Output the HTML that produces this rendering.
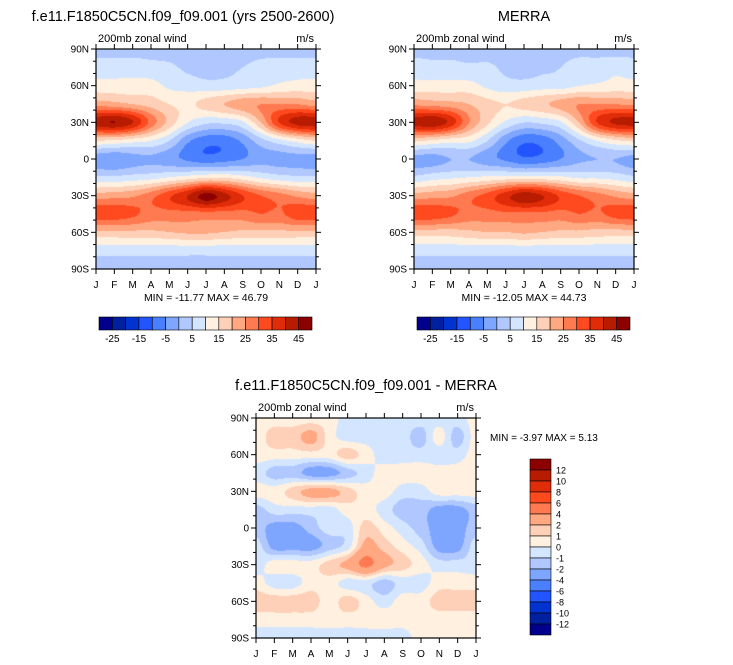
<!DOCTYPE html>
<html><head><meta charset="utf-8">
<style>
body{margin:0;background:#fff;width:733px;height:665px;overflow:hidden;position:relative;font-family:"Liberation Sans",sans-serif}
canvas{position:absolute}
svg{position:absolute;left:0;top:0}
</style></head>
<body>
<canvas id="c1" width="220" height="220" style="left:96px;top:49px"></canvas>
<canvas id="c2" width="220" height="220" style="left:414px;top:49px"></canvas>
<canvas id="c3" width="220" height="220" style="left:256px;top:418px"></canvas>
<svg id="ov" width="733" height="665"></svg>
<script>
const months=["J","F","M","A","M","J","J","A","S","O","N","D","J"];
const latLabels=["90N","60N","30N","0","30S","60S","90S"];
// rows: lat 90,75,60,45,30,15,0,-15,-30,-45,-60,-75,-90 ; cols: J..J (13)
const modelU=[
[3,3,3,3,3,3,2,2,3,3,3,3,3],
[8,8,8,7,6,4,3,4,5,7,8,8,8],
[12,12,12,12,9,8,7,7,8,9,11,12,12],
[23,22,20,18,15,14,17,20,23,25,25,25,23],
[43,45,40,28,18,10,6,6,9,20,35,42,43],
[15,14,12,10,5,-4,-8,-8,-4,3,8,12,15],
[-3,-4,-2,-1,-3,-6,-8,-7,-5,-2,-2,-2,-3],
[6,6,7,8,10,12,14,14,12,9,7,6,6],
[22,23,24,28,34,40,47,42,35,30,27,24,22],
[33,33,31,28,28,28,28,28,28,30,29,33,33],
[19,19,19,19,20,21,21,20,19,19,19,19,19],
[7,7,7,7,7,7,7,7,7,7,7,7,7],
[3,3,3,3,3,3,3,3,3,3,3,3,3]];
const merraU=[
[3,3,3,3,3,3,2,3,3,3,3,3,3],
[8,7,7,6,6,4,3,4,5,8,8,9,8],
[12,12,12,12,9,7,7,8,8,10,11,12,12],
[24,23,22,20,17,15,17,19,22,25,25,25,24],
[42,44,38,25,16,9,5,6,9,20,35,41,42],
[16,14,12,11,5,-4,-9,-8,-3,4,10,14,16],
[-2,-2,0,0,-3,-6,-9,-8,-5,-1,0,0,-2],
[6,8,9,10,11,12,12,12,11,9,9,8,6],
[22,23,24,28,32,38,43,40,34,30,27,24,22],
[33,33,31,28,28,29,29,29,28,30,29,32,33],
[18,18,18,19,20,20,21,20,19,19,18,18,18],
[7,7,7,7,7,7,7,7,7,7,7,7,7],
[3,3,3,3,3,3,3,3,3,3,3,3,3]];
const diffU=[
[0.5,0.5,0.5,0.5,0.5,-0.5,-0.5,-0.5,-0.5,-0.5,-0.5,-0.5,0.5],
[0.5,1.5,1.5,2.5,0.5,-0.5,-0.5,-0.5,-0.5,-1.5,0.5,-1.5,0.5],
[0.5,0.5,0.5,0.5,0.5,1.5,0.5,-0.5,-0.5,-0.5,-0.5,-0.5,0.5],
[-0.5,-1.5,-1.5,-2.5,-2.5,-1.5,-0.5,0.5,0.5,0.5,0.5,0.5,0.5],
[0.5,0.5,1.5,2.5,2.5,1.5,0.5,0.5,-0.5,-0.5,0.5,0.5,0.5],
[-1.5,-0.5,-0.5,-0.5,-0.5,0.5,0.5,-0.5,-1.5,-1.5,-2.5,-2.5,-1.5],
[-1.5,-2.5,-2.5,-1.5,-0.5,-0.5,1.5,0.5,-0.5,-1.5,-2.5,-2.5,-1.5],
[-0.5,-2.5,-2.5,-2.5,-1.5,-0.5,2.5,1.5,0.5,-0.5,-2.5,-2.5,-0.5],
[-0.5,0.5,0.5,0.5,1.5,2.5,4.5,2.5,1.5,0.5,-0.5,-0.5,-0.5],
[0.5,-0.5,-0.5,0.5,0.5,-0.5,-0.5,-1.5,-0.5,-0.5,0.5,0.5,0.5],
[1.5,1.5,1.5,1.5,0.5,1.5,0.5,-0.5,0.5,0.5,1.5,1.5,1.5],
[0.5,0.5,0.5,0.5,0.5,0.5,0.5,0.5,0.5,0.5,0.5,0.5,0.5],
[-0.5,-0.5,-0.5,-0.5,-0.5,-0.5,-0.5,-0.5,-0.5,0.5,0.5,0.5,0.5]];
const levelsTop=[-25,-20,-15,-10,-5,0,5,10,15,20,25,30,35,40,45];
const levelsDiff=[-12,-10,-8,-6,-4,-2,-1,0,1,2,4,6,8,10,12];
const topLabels=["-25","-15","-5","5","15","25","35","45"];
const diffLabels=["12","10","8","6","4","2","1","0","-1","-2","-4","-6","-8","-10","-12"];
const colors=["#00008c","#0020a0","#0033d0","#2255ff","#4a7fff","#7fa6ff","#b0c8ff","#d4e6ff","#fff0e0","#ffd0b8","#ffa882","#ff7a50","#ff4a20","#e02c08","#b81c00","#8c0000"];

function hex(c){return [parseInt(c.slice(1,3),16),parseInt(c.slice(3,5),16),parseInt(c.slice(5,7),16)];}
const rgb=colors.map(hex);
function levelIndex(v,lev){let i=0;while(i<lev.length&&v>=lev[i])i++;return i;}
function cr(p0,p1,p2,p3,t){return 0.5*((2*p1)+(-p0+p2)*t+(2*p0-5*p1+4*p2-p3)*t*t+(-p0+3*p1-3*p2+p3)*t*t*t);}
function draw(id,grid,lev){
  const cv=document.getElementById(id),ctx=cv.getContext('2d');
  const W=cv.width,H=cv.height,img=ctx.createImageData(W,H);
  const nr=grid.length,nc=grid[0].length;
  const g=(r,c)=>grid[Math.max(0,Math.min(nr-1,r))][Math.max(0,Math.min(nc-1,c))];
  for(let y=0;y<H;y++){
    const fy=y/(H-1)*(nr-1),r0=Math.min(Math.floor(fy),nr-2),ty=fy-r0;
    for(let x=0;x<W;x++){
      const fx=x/(W-1)*(nc-1),c0=Math.min(Math.floor(fx),nc-2),tx=fx-c0;
      const rows=[];
      for(let j=-1;j<=2;j++)rows.push(cr(g(r0+j,c0-1),g(r0+j,c0),g(r0+j,c0+1),g(r0+j,c0+2),tx));
      const v=cr(rows[0],rows[1],rows[2],rows[3],ty);
      const c=rgb[levelIndex(v,lev)],k=(y*W+x)*4;
      img.data[k]=c[0];img.data[k+1]=c[1];img.data[k+2]=c[2];img.data[k+3]=255;
    }
  }
  ctx.putImageData(img,0,0);
}
draw('c1',modelU,levelsTop);draw('c2',merraU,levelsTop);draw('c3',diffU,levelsDiff);

const NS="http://www.w3.org/2000/svg",svg=document.getElementById('ov');
function el(tag,attrs,text){const e=document.createElementNS(NS,tag);for(const k in attrs)e.setAttribute(k,attrs[k]);if(text!==undefined)e.textContent=text;svg.appendChild(e);return e;}
function txt(x,y,s,size,anchor,name){const t=el('text',{x:x,y:y,'font-size':size,'text-anchor':anchor||'start','font-family':'Liberation Sans, sans-serif',fill:'#000'},s);

return t;}
function panel(x0,y0,title,tx,name){
  const w=220,h=220;
  const f=el('rect',{x:x0,y:y0,width:w,height:h,fill:'none',stroke:'#000','stroke-width':1.2});
  
  
  const xs=i=>x0+i*w/12, ys=lat=>y0+(90-lat)/180*h;
  months.forEach((m,i)=>{
    el('line',{x1:xs(i),y1:y0+h,x2:xs(i),y2:y0+h+5,stroke:'#000'});
    el('line',{x1:xs(i),y1:y0,x2:xs(i),y2:y0-5,stroke:'#000'});
    txt(xs(i),y0+h+19,m,10,'middle',name+'-x-tick-label');
  });
  for(let lat=-80;lat<=80;lat+=10){if(lat%30===0)continue;
    el('line',{x1:x0,y1:ys(lat),x2:x0-3,y2:ys(lat),stroke:'#000'});
    el('line',{x1:x0+w,y1:ys(lat),x2:x0+w+3,y2:ys(lat),stroke:'#000'});}
  latLabels.forEach((l,i)=>{const yy=ys(90-30*i);
    el('line',{x1:x0,y1:yy,x2:x0-5,y2:yy,stroke:'#000'});
    el('line',{x1:x0+w,y1:yy,x2:x0+w+5,y2:yy,stroke:'#000'});
    txt(x0-7,yy+3.5,l,10,'end',name+'-y-tick-label');});
  txt(x0+2,y0-7,'200mb zonal wind',11,'start',name+'-subtitle');
  txt(x0+w-2,y0-7,'m/s',11,'end',name+'-units');
  txt(tx,y0-28,title,14.5,'middle',name+'-title');
}
panel(96,49,'f.e11.F1850C5CN.f09_f09.001 (yrs 2500-2600)',183,'model-panel');
panel(414,49,'MERRA',524,'merra-panel');
panel(256,418,'f.e11.F1850C5CN.f09_f09.001 - MERRA',366,'diff-panel');
txt(206,301,'MIN = -11.77 MAX =  46.79',10.5,'middle','model-minmax');
txt(524,301,'MIN = -12.05 MAX = 44.73',10.5,'middle','merra-minmax');
txt(490,441,'MIN =  -3.97 MAX =  5.13',10,'start','diff-minmax');

function hbar(x0,name){
  const w=213/16;
  colors.forEach((c,i)=>{const r=el('rect',{x:x0+i*w,y:317,width:w,height:13,fill:c,stroke:'#000','stroke-width':0.6});
    
    });
  topLabels.forEach((l,i)=>txt(x0+(1+2*i)*w,342,l,10,'middle',name+'-label'));
}
hbar(99,'model-colorbar');hbar(417,'merra-colorbar');
const bh=11;
colors.slice().reverse().forEach((c,i)=>{const r=el('rect',{x:530,y:459+i*bh,width:21,height:bh,fill:c,stroke:'#000','stroke-width':0.6});
  
  });
diffLabels.forEach((l,i)=>txt(556,459+(i+1)*bh+3.5,l,9,'start','diff-colorbar-label'));
</script>
</body></html>
